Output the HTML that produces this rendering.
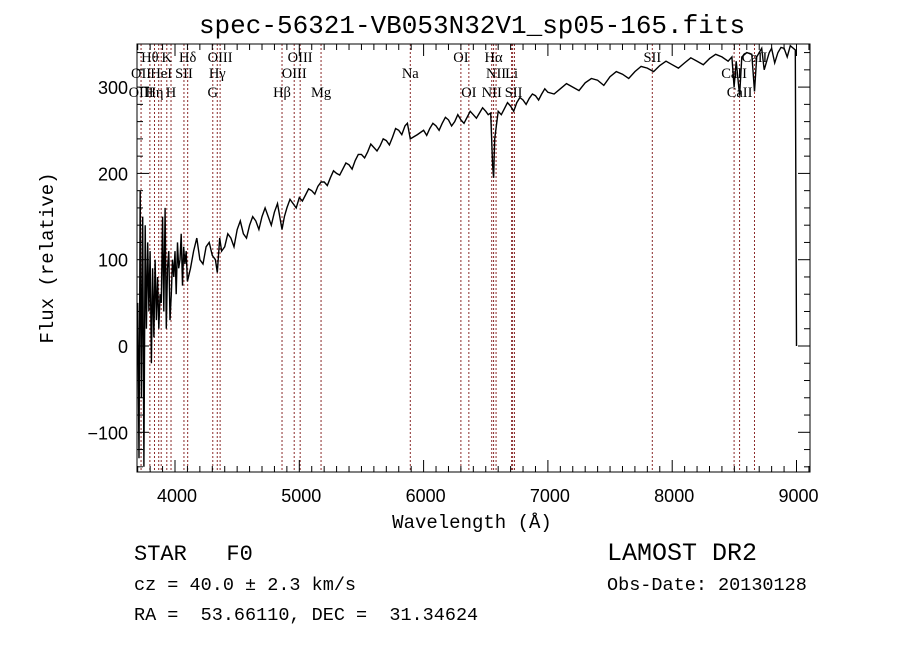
<!DOCTYPE html>
<html><head><meta charset="utf-8"><style>
body{margin:0;background:#fff;}
svg text{font-family:"Liberation Sans",sans-serif;}
.mono{font-family:"Liberation Mono",monospace;}
.ser{font-family:"Liberation Serif",serif;}
</style></head><body>
<svg id="chart" width="900" height="649" xmlns="http://www.w3.org/2000/svg">
<rect width="900" height="649" fill="#fff"/>
<text class="mono" x="472" y="33" font-size="26" text-anchor="middle">spec-56321-VB053N32V1_sp05-165.fits</text>
<g id="lines"></g>
<g id="spec"></g>
<g id="axes"></g>
<text class="mono" x="472" y="528" font-size="19" text-anchor="middle">Wavelength (Å)</text>
<text class="mono" transform="translate(53,258) rotate(-90)" font-size="19" text-anchor="middle">Flux (relative)</text>
<text class="mono" x="134" y="560" font-size="22" xml:space="preserve">STAR   F0</text>
<text class="mono" x="134" y="590" font-size="18.5" xml:space="preserve">cz = 40.0 ± 2.3 km/s</text>
<text class="mono" x="134" y="620" font-size="18.5" xml:space="preserve">RA =  53.66110, DEC =  31.34624</text>
<text class="mono" x="607" y="560" font-size="25">LAMOST DR2</text>
<text class="mono" x="607" y="590" font-size="18.5">Obs-Date: 20130128</text>
</svg>
<script>
const wl=[3700,3710,3720,3730,3740,3750,3760,3770,3780,3790,3800,3810,3820,3830,3840,3850,3860,3870,3880,3890,3900,3910,3920,3930,3940,3950,3960,3970,3980,3990,4000,4010,4020,4030,4040,4050,4060,4070,4080,4090,4100,
4150,4200,4250,4300,4340,4360,4400,4450,4500,4550,4600,4650,4700,4750,4800,4861,4900,4950,5000,5050,5100,5150,5200,5250,5300,5350,5400,5450,5500,5550,5600,5650,5700,5750,5800,5850,5893,5950,6000,6050,6100,6150,6200,6250,6300,6350,6400,6450,6500,6540,6555,6563,6572,6600,6650,6700,6750,6800,6850,6900,6950,7000,7100,7200,7300,7400,7500,7600,7700,7800,7900,8000,8100,8200,8300,8400,8480,8498,8515,8542,8560,8600,8640,8662,8680,8720,8760,8800,8850,8900,8950,8990,9000];
const flux=[50,-130,180,-60,150,-140,140,20,120,40,110,-20,90,10,100,30,80,20,60,50,150,40,160,20,90,110,30,60,100,80,110,60,120,90,100,130,70,115,95,110,75,
110,100,115,105,85,125,115,125,135,130,140,145,150,150,155,135,160,165,172,175,180,185,190,195,200,205,210,215,222,225,230,232,238,242,250,255,240,245,250,252,255,258,262,260,262,265,268,270,272,270,210,195,240,272,275,278,282,285,287,290,292,294,298,300,305,308,312,315,318,322,325,326,328,330,333,335,335,300,330,290,335,340,338,295,335,345,330,345,340,345,348,343,0];
const wl2=[4125,4175,4225,4275,4325,4375,4425,4475,4525,4575,4625,4675,4725,4775,4825,4880,4925,4975,5025,5075,5125,5175,5225,5275,5325,5375,5425,5475,5525,5575,5625,5675,5725,5775,5825,5870,6025,6075,6125,6175,6225,6275,6325,6375,6425,6475,6520,6625,6675,6725,6775,6825,6875,6925,6975,7050,7150,7250,7350,7450,7550,7650,7750,7850,7950,8050,8150,8250,8350,8450,8740,8780,8825,8875,8925];
const flux2=[90,125,95,120,100,110,130,115,145,125,150,135,160,140,165,150,170,160,168,182,176,190,186,203,198,212,205,222,218,234,226,240,233,252,245,258,244,258,250,265,255,268,258,272,264,276,268,268,282,272,288,280,292,285,298,292,304,296,310,302,318,310,324,318,330,322,334,326,338,330,320,340,328,346,335];
const lineWl=[3727,3798,3835,3869,3889,3934,3968,4072,4102,4304,4340,4363,4861,4959,5007,5175,5893,6300,6364,6548,6563,6583,6708,6716,6731,7840,8498,8542,8662];
const labels=[["Hθ",3798,1],["K",3934,1],["Hδ",4102,1],["OIII",4363,1],["OIII",5007,1],["OI",6300,1],["Hα",6563,1],["SII",7840,1],["CaII",8662,1],
["OII",3727,2],["HeI",3889,2],["SII",4072,2],["Hγ",4340,2],["OIII",4959,2],["Na",5893,2],["NII",6583,2],["Li",6708,2],["CaII",8498,2],
["OIII",3727,3],["Hη",3835,3],["H",3968,3],["G",4304,3],["Hβ",4861,3],["Mg",5175,3],["OI",6364,3],["NII",6548,3],["SII",6724,3],["CaII",8542,3]];
const xTicks=[4000,5000,6000,7000,8000,9000];
const yTicks=[-100,0,100,200,300];
const L=137,R=810,T=44,B=472;
const X=w=>175+(w-4000)*0.1243;
const Y=v=>346-v*0.863;
const NS="http://www.w3.org/2000/svg";
function mk(t,a,p){const e=document.createElementNS(NS,t);for(const k in a)e.setAttribute(k,a[k]);p.appendChild(e);return e;}
const gl=document.getElementById('lines');
lineWl.forEach(w=>{const l=mk('line',{x1:X(w),x2:X(w),y1:T,y2:B,stroke:'#8b2a2a','stroke-width':1,'stroke-dasharray':'2,2'},gl);

});
const rowY=[0,62,78,97];
labels.forEach(([t,w,r])=>{const e=mk('text',{x:X(w),y:rowY[r],'font-size':14.5,'text-anchor':'middle',class:'ser'},gl);e.textContent=t;

});
const gs=document.getElementById('spec');
const pts=wl.map((w,i)=>[w,flux[i]]).concat(wl2.map((w,i)=>[w,flux2[i]])).sort((a,b)=>a[0]-b[0]);
let d=pts.map((q,i)=>(i?'L':'M')+X(q[0]).toFixed(1)+','+Math.max(T,Math.min(B,Y(q[1]))).toFixed(1)).join(' ');
const p=mk('path',{d:d,fill:'none',stroke:'#000','stroke-width':1.4},gs);


const ga=document.getElementById('axes');
const fr=mk('rect',{x:L,y:T,width:R-L,height:B-T,fill:'none',stroke:'#000','stroke-width':1},ga);


for(let w=3700;w<=9100;w+=100){const x=X(w);if(x<L||x>R)continue;const len=(w%1000===0)?12:6;
mk('line',{x1:x,x2:x,y1:B,y2:B-len,stroke:'#000'},ga);mk('line',{x1:x,x2:x,y1:T,y2:T+len,stroke:'#000'},ga);}
for(let v=-140;v<=350;v+=20){const y=Y(v);if(y<T||y>B)continue;const len=(v%100===0)?12:6;
mk('line',{x1:L,x2:L+len,y1:y,y2:y,stroke:'#000'},ga);mk('line',{x1:R,x2:R-len,y1:y,y2:y,stroke:'#000'},ga);}
xTicks.forEach(w=>{const e=mk('text',{x:X(w)+2,y:502,'font-size':18,'text-anchor':'middle'},ga);e.textContent=w;

});
yTicks.forEach(v=>{const e=mk('text',{x:128,y:Y(v)+7,'font-size':18,'text-anchor':'end'},ga);e.textContent=v===-100?'−100':v;

});
</script>
</body></html>
